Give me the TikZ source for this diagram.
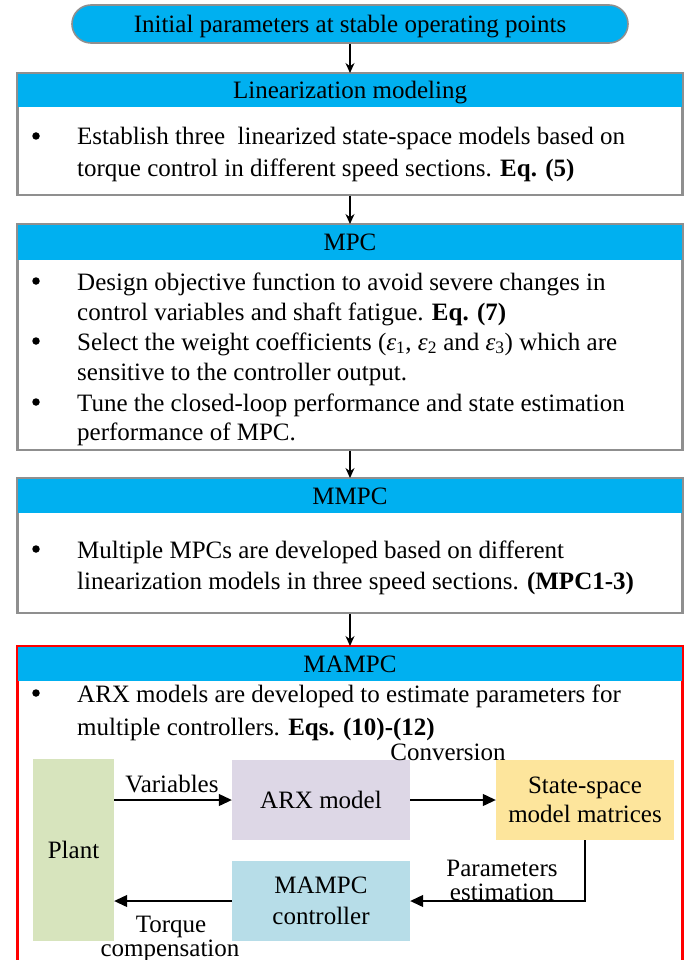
\documentclass[tikz,border=0pt]{standalone}
\usepackage{fontspec}
\setmainfont{Liberation Serif}
\usetikzlibrary{arrows.meta}
\definecolor{hdcyan}{HTML}{00B0F0}
\definecolor{bordergray}{HTML}{8F8F8F}
\definecolor{plantgreen}{HTML}{D7E4BD}
\definecolor{arxpurple}{HTML}{DDD7E6}
\definecolor{ssyellow}{HTML}{FDE59C}
\definecolor{ctrlblue}{HTML}{B7DDE8}
\begin{document}
\begin{tikzpicture}[x=1pt,y=-1pt,font=\fontsize{25}{30}\selectfont,
  panel/.style={draw=bordergray, line width=1.6pt, fill=white, minimum width=664pt, inner sep=0pt, anchor=north},
  header/.style={fill=hdcyan, minimum width=664pt, inner sep=0pt, anchor=north, text height=17pt, text depth=0pt},
  txtline/.style={anchor=base west, inner sep=0pt},
  bul/.style={circle, fill=black, minimum size=7.5pt, inner sep=0pt},
  flow/.style={-{Stealth[length=10pt,width=9pt]}, line width=1.1pt},
  sig/.style={-{Triangle[length=13pt,width=12pt]}, line width=1.2pt},
  blk/.style={inner sep=0pt, align=center},
  lab/.style={anchor=base, inner sep=0pt}]
\clip (0,0) rectangle (686,960);
\fill[white] (0,0) rectangle (686,960);
% title
\node[draw=bordergray, line width=1.6pt, fill=hdcyan, rounded corners=19pt, minimum width=556pt, minimum height=38pt, inner sep=0pt, text height=17pt, text depth=0pt] (t0) at (350,24) {Initial parameters at stable operating points};
% panel 1
\node[panel, minimum height=121pt] (b1) at (350,73) {};
\node[header, minimum height=34pt] (h1) at (b1.north) {Linearization modeling};
\draw[bordergray, line width=1.6pt] (b1.north west) rectangle (b1.south east);
\node[bul] (d11) at (36,136) {};
\node[txtline] (l11) at (77,145) {Establish three\ \ linearized state-space models based on};
\node[txtline] (l12) at (77,177) {torque control in different speed sections. \textbf{Eq. (5)}};
% panel 2
\node[panel, minimum height=225pt] (b2) at (350,224) {};
\node[header, minimum height=36pt] (h2) at (b2.north) {MPC};
\draw[bordergray, line width=1.6pt] (b2.north west) rectangle (b2.south east);
\node[bul] (d21) at (36,281) {};
\node[txtline] (l21) at (77,290) {Design objective function to avoid severe changes in};
\node[txtline] (l22) at (77,320) {control variables and shaft fatigue. \textbf{Eq. (7)}};
\node[bul] (d22) at (36,341) {};
\node[txtline] (l23) at (77,350) {Select the weight coefficients ({\itshape ε}\textsubscript{1}, {\itshape ε}\textsubscript{2} and {\itshape ε}\textsubscript{3}) which are};
\node[txtline] (l24) at (77,380) {sensitive to the controller output.};
\node[bul] (d23) at (36,402) {};
\node[txtline] (l25) at (77,411) {Tune the closed-loop performance and state estimation};
\node[txtline] (l26) at (77,440) {performance of MPC.};
% panel 3
\node[panel, minimum height=134pt] (b3) at (350,478) {};
\node[header, minimum height=35pt] (h3) at (b3.north) {MMPC};
\draw[bordergray, line width=1.6pt] (b3.north west) rectangle (b3.south east);
\node[bul] (d31) at (36,549) {};
\node[txtline] (l31) at (77,558) {Multiple MPCs are developed based on different};
\node[txtline] (l32) at (77,589) {linearization models in three speed sections. \textbf{(MPC1-3)}};
% panel 4
\node[panel, draw=red, minimum height=330pt] (b4) at (350,646) {};
\node[header, minimum height=34pt] (h4) at ([yshift=-1pt]b4.north) {MAMPC};
\draw[red, line width=1.6pt] (b4.north west) rectangle (b4.south east);
\node[bul] (d41) at (36,693) {};
\node[txtline] (l41) at (77,702) {ARX models are developed to estimate parameters for};
\node[txtline] (l42) at (77,735) {multiple controllers. \textbf{Eqs. (10)-(12)}};
% flow arrows
\draw[flow] (t0.south) -- (b1.north);
\draw[flow] (b1.south) -- (b2.north);
\draw[flow] (b2.south) -- (b3.north);
\draw[flow] (b3.south) -- (b4.north);
% inner diagram
\node[blk, fill=plantgreen, minimum width=81pt, minimum height=182pt] (plant) at (73.5,850) {Plant};
\node[blk, fill=arxpurple, minimum width=178pt, minimum height=80pt] (arx) at (321,800) {ARX model};
\node[blk, fill=ssyellow, minimum width=178pt, minimum height=80pt, font=\fontsize{25}{29}\selectfont] (ss) at (585,800) {State-space\\model matrices};
\node[blk, fill=ctrlblue, minimum width=178pt, minimum height=80pt, font=\fontsize{25}{31}\selectfont] (ctrl) at (321,901) {MAMPC\\controller};
\draw[sig] (plant.east |- arx.west) -- (arx.west);
\draw[sig] (arx.east) -- (ss.west);
\draw[sig] (ss.south) |- (ctrl.east);
\draw[sig] (ctrl.west) -- (plant.east |- ctrl.west);
\node[lab] (vlab) at (172,792) {Variables};
\node[lab] (clab) at (448,760) {Conversion};
\node[lab] (plab1) at (502,876) {Parameters};
\node[lab] (plab2) at (502,900) {estimation};
\node[lab] (tlab1) at (171,932) {Torque};
\node[lab] (tlab2) at (170,956) {compensation};
\end{tikzpicture}
\end{document}
